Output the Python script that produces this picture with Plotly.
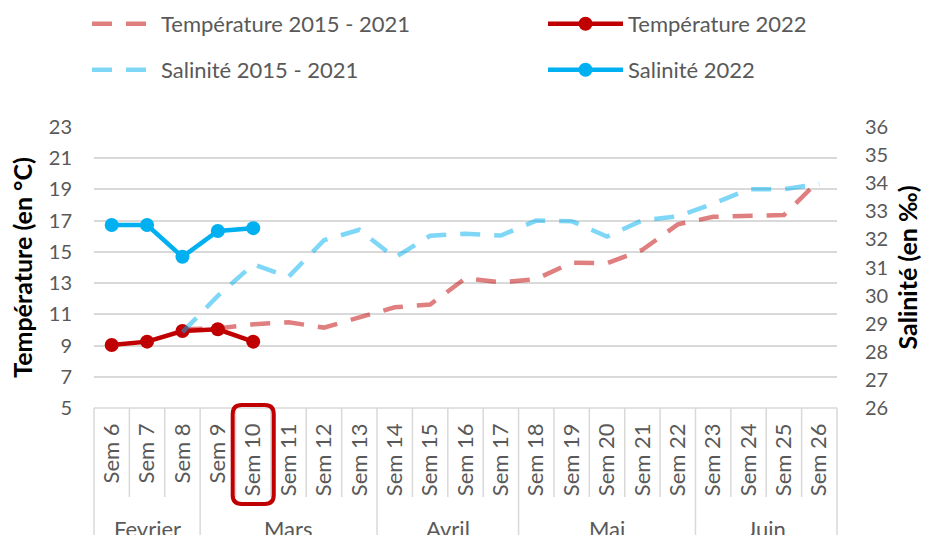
import plotly.graph_objects as go

weeks = ["Sem %d" % i for i in range(6, 27)]
months = ["Fevrier", "Mars", "Avril", "Mai", "Juin"]
month_weeks = [3, 5, 4, 5, 4]  # number of weeks per month

temp_hist = [None, None, 10.05, 10.1, 10.36, 10.49, 10.15, 10.79, 11.45, 11.63, 13.31,
             13.05, 13.26, 14.31, 14.27, 15.13, 16.76, 17.25, 17.30, 17.36, 19.6]
temp_2022 = [9.04, 9.25, 9.93, 10.04, 9.25] + [None] * 16
sal_hist = [None, None, 28.7, 29.99, 31.11, 30.67, 31.97, 32.34, 31.35, 32.13, 32.20,
            32.14, 32.67, 32.65, 32.10, 32.68, 32.82, 33.27, 33.78, 33.79, 33.97]
sal_2022 = [32.51, 32.51, 31.38, 32.30, 32.40] + [None] * 16

FONT = "Lato"
GREY = "#595959"
GRID = "#d9d9d9"

N = len(weeks)
PL, PR, PT, PB = 94, 837, 127, 408
W, H = 936, 535
pw, ph = PR - PL, PB - PT


def py(pix):
    return (PB - pix) / ph


def px(pix):
    return (pix - PL) / pw


fig = go.Figure()
fig.add_trace(go.Scatter(x=weeks, y=temp_hist, name="Température 2015 - 2021", mode="lines",
                         line=dict(color="rgba(192,0,0,0.5)", width=4.5, dash="20px,14px"),
                         legend="legend"))
fig.add_trace(go.Scatter(x=weeks, y=temp_2022, name="Température 2022", mode="lines+markers",
                         line=dict(color="#C00000", width=4.5), marker=dict(size=14, color="#C00000"),
                         legend="legend2"))
fig.add_trace(go.Scatter(x=weeks, y=sal_hist, name="Salinité 2015 - 2021", mode="lines",
                         line=dict(color="rgba(0,176,240,0.5)", width=4.5, dash="20px,14px"),
                         yaxis="y2", legend="legend3"))
fig.add_trace(go.Scatter(x=weeks, y=sal_2022, name="Salinité 2022", mode="lines+markers",
                         line=dict(color="#00B0F0", width=4.5), marker=dict(size=14, color="#00B0F0"),
                         yaxis="y2", legend="legend4"))

shapes = []
# category separators
boundaries = []
acc = 0
for m in month_weeks:
    acc += m
    boundaries.append(acc)
for i in range(0, N + 1):
    long = i == 0 or i == N or i in boundaries
    shapes.append(dict(type="line", xref="paper", yref="paper", x0=i / N, x1=i / N,
                       y0=0, y1=py(536) if long else py(497),
                       line=dict(color=GRID, width=1.5)))
shapes.append(dict(type="line", xref="paper", yref="paper", x0=0, x1=1, y0=0, y1=0,
                   line=dict(color=GRID, width=1.5)))

# red rounded box around Sem 10
idx = weeks.index("Sem 10")
xc = (idx + 0.5) / N
hw = 0.58 / N
x0, x1 = xc - hw, xc + hw
yt, yb = py(405), py(504)
rx, ry = 9 / pw, 9 / ph
path = (f"M {x0+rx},{yt} L {x1-rx},{yt} Q {x1},{yt} {x1},{yt-ry} L {x1},{yb+ry} "
        f"Q {x1},{yb} {x1-rx},{yb} L {x0+rx},{yb} Q {x0},{yb} {x0},{yb+ry} "
        f"L {x0},{yt-ry} Q {x0},{yt} {x0+rx},{yt} Z")
shapes.append(dict(type="path", xref="paper", yref="paper", path=path,
                   line=dict(color="#C00000", width=4)))

annotations = []
start = 0
for m, n in zip(months, month_weeks):
    annotations.append(dict(x=(start + n / 2) / N, y=py(528), xref="paper", yref="paper",
                            text=m, showarrow=False, font=dict(family=FONT, size=22, color=GREY),
                            xanchor="center", yanchor="middle"))
    start += n

legfont = dict(family=FONT, size=22, color=GREY)


def leg(xpix, ypix, iw):
    return dict(x=px(xpix), y=py(ypix), xanchor="left", yanchor="middle", itemwidth=iw,
                font=legfont, bgcolor="rgba(0,0,0,0)", borderwidth=0)


fig.update_layout(
    width=W, height=H,
    showlegend=True,
    margin=dict(l=PL, r=W - PR, t=PT, b=H - PB, autoexpand=False),
    plot_bgcolor="white", paper_bgcolor="white",
    font=dict(family=FONT, size=20, color=GREY),
    xaxis=dict(type="category", tickangle=-90, showgrid=False, showline=False, ticks="",
               tickfont=dict(family=FONT, size=22, color=GREY), ticklabelstandoff=10,
               range=[-0.5, N - 0.5], automargin=False),
    yaxis=dict(range=[5, 23], dtick=2, tick0=5, showgrid=True, gridcolor=GRID, gridwidth=1.5,
               zeroline=False, showline=False, ticks="", ticklabelstandoff=21, automargin=False,
               tickfont=dict(family=FONT, size=20, color=GREY),
               title=dict(text="Température (en °C)", standoff=9,
                          font=dict(family=FONT, size=25, color="black", weight="bold"))),
    yaxis2=dict(range=[26, 36], dtick=1, tick0=26, overlaying="y", side="right", showgrid=False,
                zeroline=False, showline=False, ticks="", ticklabelstandoff=27, automargin=False,
                tickfont=dict(family=FONT, size=20, color=GREY),
                title=dict(text="Salinité (en ‰)", standoff=11,
                           font=dict(family=FONT, size=25, color="black", weight="bold"))),
    legend=leg(87, 24, 64),
    legend2=leg(543, 24, 75),
    legend3=leg(87, 70, 64),
    legend4=leg(543, 70, 75),
    shapes=shapes,
    annotations=annotations,
)

fig.write_html("out.html", config={"displayModeBar": False},
               post_script="document.body.style.margin='0';document.body.style.overflow='hidden';")
